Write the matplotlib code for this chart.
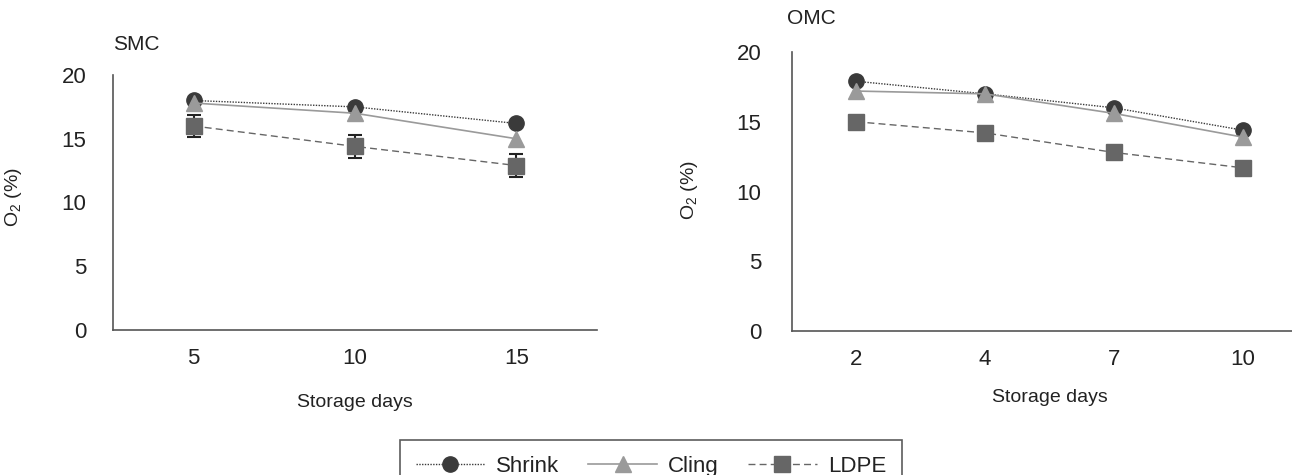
import matplotlib
matplotlib.use("Agg")
import matplotlib.pyplot as plt
from matplotlib.lines import Line2D

plt.rcParams['font.family'] = ['Liberation Sans', 'DejaVu Sans']

smc_days = ['5', '10', '15']
smc_shrink = [18.0, 17.5, 16.2]
smc_cling = [17.8, 17.0, 15.0]
smc_ldpe = [16.0, 14.4, 12.9]
smc_ldpe_err = [0.9, 0.9, 0.9]

omc_days = ['2', '4', '7', '10']
omc_shrink = [17.9, 17.0, 16.0, 14.4]
omc_cling = [17.2, 17.0, 15.6, 13.9]
omc_ldpe = [15.0, 14.2, 12.8, 11.7]

W, H = 1292, 475
fig = plt.figure(figsize=(W / 100, H / 100), dpi=100)

def px(x0, y0, x1, y1):
    return [x0 / W, 1 - y1 / H, (x1 - x0) / W, (y1 - y0) / H]

styles = {
    'Shrink': dict(color='#3a3a3a', marker='o', ls=(0, (1, 1)), lw=1.0, ms=11, mfc='#3a3a3a'),
    'Cling': dict(color='#9a9a9a', marker='^', ls='-', lw=1.2, ms=12, mfc='#9a9a9a'),
    'LDPE': dict(color='#666666', marker='s', ls=(0, (5, 3)), lw=1.0, ms=11.5, mfc='#666666'),
}
txt = '#222222'

def style_ax(ax, labels, ypad, xlabpad):
    for s in ['top', 'right']:
        ax.spines[s].set_visible(False)
    for s in ['left', 'bottom']:
        ax.spines[s].set_color('#555555')
        ax.spines[s].set_linewidth(1.2)
    ax.set_ylim(0, 20)
    ax.set_yticks([0, 5, 10, 15, 20])
    ax.set_xlim(-0.5, len(labels) - 0.5)
    ax.set_xticks(range(len(labels)))
    ax.set_xticklabels(labels)
    ax.tick_params(length=0, labelsize=16, colors=txt)
    ax.tick_params(axis='x', pad=13)
    ax.tick_params(axis='y', pad=ypad)
    ax.set_xlabel('Storage days', fontsize=14, color=txt, labelpad=xlabpad)
    ax.set_ylabel('O$_{\\mathregular{2}}$ (%)', fontsize=14, color=txt)

# SMC
ax1 = fig.add_axes(px(113, 75, 597, 330))
x = range(len(smc_days))
ax1.plot(x, smc_shrink, mec='#3a3a3a', zorder=3, **styles['Shrink'])
ax1.plot(x, smc_cling, mec='#9a9a9a', zorder=4, **styles['Cling'])
ax1.errorbar(x, smc_ldpe, yerr=smc_ldpe_err, ecolor='#222222', elinewidth=1.5,
             capsize=5, capthick=1.5, mec='#666666', zorder=5, **styles['LDPE'])
style_ax(ax1, smc_days, 19, 18)
ax1.yaxis.set_label_coords(-0.183, 0.52)
ax1.text(0.0, 1.1, 'SMC', transform=ax1.transAxes, fontsize=15, color=txt)

# OMC
ax2 = fig.add_axes(px(792, 52, 1307, 331))
x = range(len(omc_days))
ax2.plot(x, omc_shrink, mec='#3a3a3a', zorder=3, **styles['Shrink'])
ax2.plot(x, omc_cling, mec='#9a9a9a', zorder=4, **styles['Cling'])
ax2.plot(x, omc_ldpe, mec='#666666', zorder=5, **styles['LDPE'])
style_ax(ax2, omc_days, 22, 14)
ax2.yaxis.set_label_coords(-0.178, 0.505)
ax2.text(-0.01, 1.1, 'OMC', transform=ax2.transAxes, fontsize=15, color=txt)

handles = [Line2D([], [], **styles[k]) for k in ['Shrink', 'Cling', 'LDPE']]
leg = fig.legend(handles, ['Shrink', 'Cling', 'LDPE'], ncol=3,
                 loc='upper center', bbox_to_anchor=(651 / W, 1 - 440 / H),
                 borderaxespad=0, frameon=True, fancybox=False, edgecolor='#333333',
                 fontsize=16, handlelength=3.1, columnspacing=1.3,
                 borderpad=0.7, handletextpad=0.5)
leg.get_frame().set_linewidth(1.2)
for t in leg.get_texts():
    t.set_color(txt)

fig.savefig('out.png', dpi=100)
